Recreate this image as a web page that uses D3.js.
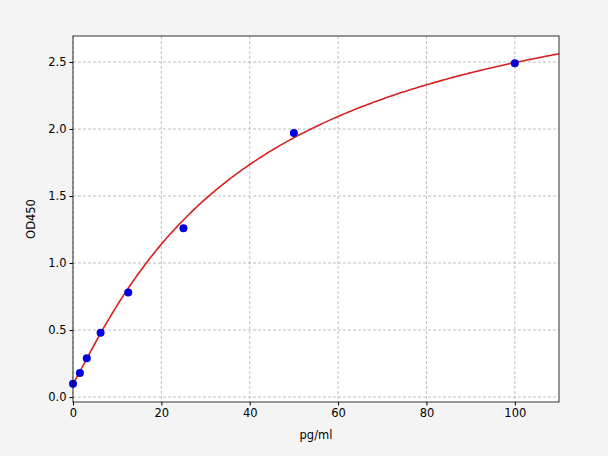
<!DOCTYPE html>
<html>
<head>
<meta charset="utf-8">
<script src="https://cdn.jsdelivr.net/npm/d3@7"></script>
<style>
  body { margin: 0; background: #f4f4f4; }
  text { font-family: "DejaVu Sans", sans-serif; }
</style>
</head>
<body>
<script>
// standard points
const conc = [0, 1.56, 3.12, 6.25, 12.5, 25, 50, 100]
const od = [0.1, 0.18, 0.29, 0.48, 0.78, 1.26, 1.97, 2.49]
const xTicks = [0, 20, 40, 60, 80, 100]
const yTicks = [0, 0.5, 1, 1.5, 2, 2.5]
// 4PL fit parameters (estimated)
const fit = {a: 0.1, b: 1.1, c: 40, d: 3.37}

const MARGIN = {top: 36, bottom: 54, left: 73, right: 49}
const WIDTH = 608 - MARGIN.left - MARGIN.right
const HEIGHT = 456 - MARGIN.top - MARGIN.bottom

const svg = d3.select('body').append('svg')
  .attr('width', 608).attr('height', 456)
const g = svg.append('g').attr('transform', `translate(${MARGIN.left},${MARGIN.top})`)

const x = d3.scaleLinear().domain([0, 110]).range([0, WIDTH])
const y = d3.scaleLinear().domain([-0.037, 2.694]).range([HEIGHT, 0])

g.append('rect').attr('width', WIDTH).attr('height', HEIGHT).attr('fill', '#fff')

// grid
g.selectAll('.gx').data(xTicks).join('line')
  .attr('x1', d => x(d)).attr('x2', d => x(d)).attr('y1', 0).attr('y2', HEIGHT)
  .attr('stroke', '#b0b0b0').attr('stroke-dasharray', '3,2').attr('stroke-width', 0.8)
g.selectAll('.gy').data(yTicks).join('line')
  .attr('y1', d => y(d)).attr('y2', d => y(d)).attr('x1', 0).attr('x2', WIDTH)
  .attr('stroke', '#b0b0b0').attr('stroke-dasharray', '3,2').attr('stroke-width', 0.8)

// fitted curve
const f = v => fit.d + (fit.a - fit.d) / (1 + Math.pow(v / fit.c, fit.b))
const xs = d3.range(0, 110.01, 0.5)
g.append('path').datum(xs)
  .attr('d', d3.line().x(d => x(d)).y(d => y(f(d))))
  .attr('fill', 'none').attr('stroke', '#d62020').attr('stroke-width', 1.6)

g.selectAll('circle').data(conc).join('circle')
  .attr('cx', d => x(d)).attr('cy', (d, i) => y(od[i])).attr('r', 4)
  .attr('fill', '#0000dd')

// axes
const xa = g.append('g').attr('transform', `translate(0,${HEIGHT})`)
  .call(d3.axisBottom(x).tickValues(xTicks).tickSize(3.5).tickPadding(3))
const ya = g.append('g')
  .call(d3.axisLeft(y).tickValues(yTicks).tickFormat(d3.format('.1f')).tickSize(3.5).tickPadding(3))
for (const a of [xa, ya]) {
  a.select('.domain').remove()
  a.selectAll('text').attr('font-size', 11.5).attr('fill', '#000')
  a.selectAll('line').attr('stroke', '#000')
}
g.append('rect').attr('width', WIDTH).attr('height', HEIGHT)
  .attr('fill', 'none').attr('stroke', '#000').attr('stroke-width', 0.8)

svg.append('text').attr('x', MARGIN.left + WIDTH / 2).attr('y', 439)
  .attr('text-anchor', 'middle').attr('font-size', 11.5).text('pg/ml')
svg.append('text').attr('transform', `translate(35,${MARGIN.top + HEIGHT / 2}) rotate(-90)`)
  .attr('text-anchor', 'middle').attr('font-size', 11.5).text('OD450')
</script>
</body>
</html>
